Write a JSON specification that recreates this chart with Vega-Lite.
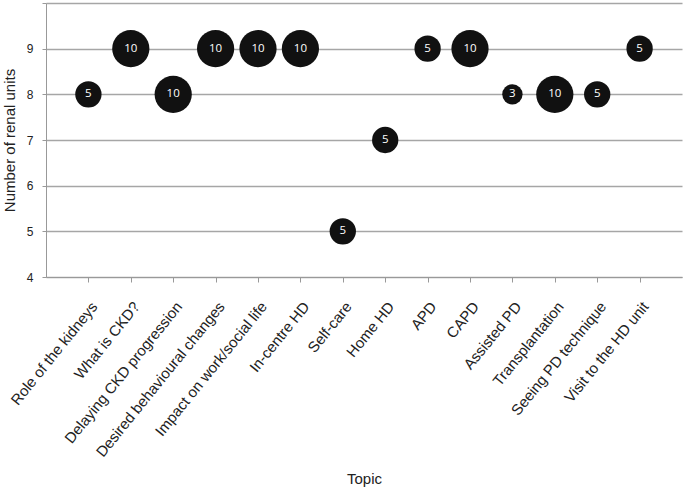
{
  "$schema": "https://vega.github.io/schema/vega-lite/v6.json",
  "width": 636,
  "height": 274,
  "autosize": "none",
  "padding": {"left": 46, "top": 3, "right": 3, "bottom": 216},
  "background": "white",
  "config": {
    "view": {"stroke": null},
    "axis": {"labelFont": "Liberation Sans", "titleFont": "Liberation Sans", "titleFontWeight": "normal", "labelColor": "#222", "titleColor": "#222"}
  },
  "data": {
    "values": [
      {"topic": "Role of the kidneys", "units": 8, "size": 5},
      {"topic": "What is CKD?", "units": 9, "size": 10},
      {"topic": "Delaying CKD progression", "units": 8, "size": 10},
      {"topic": "Desired behavioural changes", "units": 9, "size": 10},
      {"topic": "Impact on work/social life", "units": 9, "size": 10},
      {"topic": "In-centre HD", "units": 9, "size": 10},
      {"topic": "Self-care", "units": 5, "size": 5},
      {"topic": "Home HD", "units": 7, "size": 5},
      {"topic": "APD", "units": 9, "size": 5},
      {"topic": "CAPD", "units": 9, "size": 10},
      {"topic": "Assisted PD", "units": 8, "size": 3},
      {"topic": "Transplantation", "units": 8, "size": 10},
      {"topic": "Seeing PD technique", "units": 8, "size": 5},
      {"topic": "Visit to the HD unit", "units": 9, "size": 5}
    ]
  },
  "encoding": {
    "x": {
      "field": "topic", "type": "nominal", "sort": null,
      "scale": {"type": "point", "padding": 1},
      "axis": {
        "title": "Topic", "titleFontSize": 15, "titlePadding": 12,
        "labelAngle": -51, "labelFontSize": 15, "labelPadding": 17,
        "labelAlign": "right", "labelBaseline": "top", "labelLimit": 0,
        "domainColor": "#999", "tickColor": "#999", "tickSize": 5, "grid": false
      }
    },
    "y": {
      "field": "units", "type": "quantitative",
      "scale": {"domain": [4, 10], "nice": false, "zero": false},
      "axis": {
        "title": "Number of renal units", "titleFontSize": 15, "titlePadding": 9,
        "values": [4, 5, 6, 7, 8, 9, 10],
        "labelExpr": "datum.value == 10 ? '' : datum.label",
        "labelFontSize": 12, "labelPadding": 9,
        "domainColor": "#999", "tickColor": "#999", "tickSize": 4,
        "gridColor": "#a6a6a6", "gridWidth": 1.5
      }
    }
  },
  "layer": [
    {
      "mark": {"type": "circle", "color": "#111111", "opacity": 1},
      "encoding": {
        "size": {"field": "size", "type": "quantitative", "scale": {"type": "linear", "domain": [0, 10], "range": [0, 1385], "zero": true}, "legend": null}
      }
    },
    {
      "mark": {"type": "text", "color": "white", "font": "Open Sans", "fontSize": 11.5},
      "encoding": {"text": {"field": "size", "type": "quantitative"}}
    }
  ]
}
